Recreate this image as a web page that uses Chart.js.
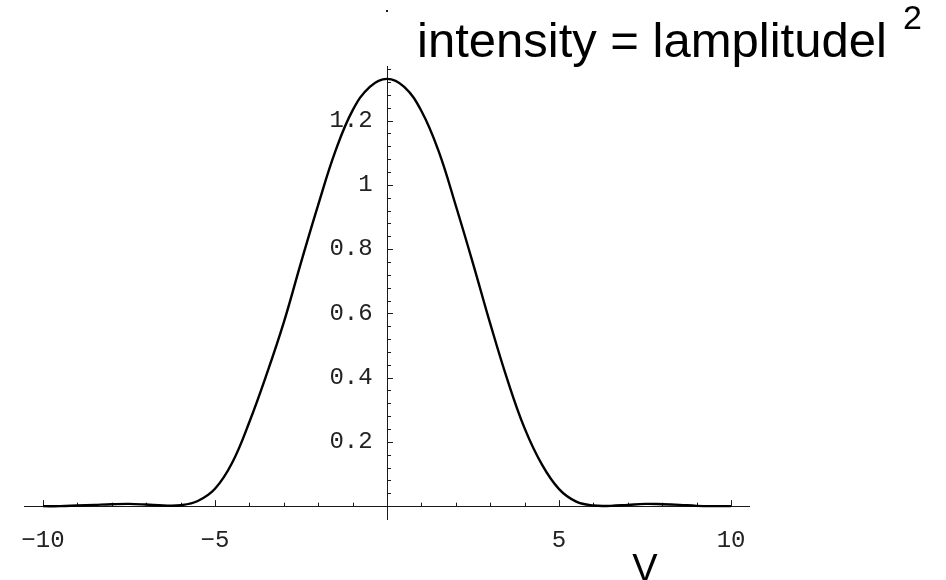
<!DOCTYPE html>
<html>
<head>
<meta charset="utf-8">
<script src="https://cdn.jsdelivr.net/npm/chart.js@4.4.1/dist/chart.umd.min.js"></script>
<style>
  html, body { margin: 0; padding: 0; background: #fff; }
  #wrap { width: 946px; height: 580px; }
</style>
</head>
<body>
<div id="wrap"><canvas id="plot" width="946" height="580"></canvas></div>
<script>
// v in steps of 0.5 and the intensity |amplitude|^2 at each v
const vValues = [
  -10, -9.5, -9, -8.5, -8, -7.5, -7, -6.5, -6, -5.5, -5, -4.5, -4, -3.5, -3, -2.5, -2, -1.5, -1, -0.5,
  0,
  0.5, 1, 1.5, 2, 2.5, 3, 3.5, 4, 4.5, 5, 5.5, 6, 6.5, 7, 7.5, 8, 8.5, 9, 9.5, 10
];
const intensity = [
  0, 0, 0.002, 0.004, 0.006, 0.007, 0.005, 0.002, 0.003, 0.016, 0.054, 0.135, 0.262, 0.41, 0.572, 0.758, 0.938, 1.105, 1.232, 1.305,
  1.33,
  1.305, 1.23, 1.105, 0.935, 0.755, 0.568, 0.393, 0.242, 0.13, 0.053, 0.014, 0.002, 0.001, 0.004, 0.007, 0.006, 0.004, 0.001, 0, 0
];

const xTickValues = [-10, -5, 5, 10];
const yTickValues = [0.2, 0.4, 0.6, 0.8, 1, 1.2];
const xMinorTicks = [-9, -8, -7, -6, -4, -3, -2, -1, 1, 2, 3, 4, 6, 7, 8, 9];
const yMinorTicks = [];
for (let k = 1; k <= 34; k++) {
  if (k % 5 !== 0) yMinorTicks.push(k * 0.04);
}

const AXIS_COLOR = '#1a1a1a';
const tickFont = { family: 'Liberation Mono', size: 24 };

// small inward tick marks, drawn before the curve so it covers them
const tickMarks = {
  id: 'tickMarks',
  beforeDatasetsDraw(chart) {
    const { ctx, scales: { x, y } } = chart;
    const x0 = x.getPixelForValue(0);
    const y0 = y.getPixelForValue(0);
    ctx.save();
    ctx.strokeStyle = AXIS_COLOR;
    ctx.lineWidth = 1;
    ctx.beginPath();
    xTickValues.forEach(v => {
      const px = Math.round(x.getPixelForValue(v)) + 0.5;
      ctx.moveTo(px, y0); ctx.lineTo(px, y0 - 6);
    });
    xMinorTicks.forEach(v => {
      const px = Math.round(x.getPixelForValue(v)) + 0.5;
      ctx.moveTo(px, y0); ctx.lineTo(px, y0 - 3.5);
    });
    yTickValues.forEach(v => {
      const py = Math.round(y.getPixelForValue(v)) + 0.5;
      ctx.moveTo(x0, py); ctx.lineTo(x0 + 6, py);
    });
    yMinorTicks.forEach(v => {
      const py = Math.round(y.getPixelForValue(v)) + 0.5;
      ctx.moveTo(x0, py); ctx.lineTo(x0 + 4, py);
    });
    ctx.stroke();
    // small dot above the top of the vertical axis
    ctx.fillStyle = AXIS_COLOR;
    ctx.fillRect(Math.round(x0) - 1, 10, 2, 2);
    ctx.restore();
  }
};

// plot label and axis letter
const plotText = {
  id: 'plotText',
  afterDraw(chart) {
    const { ctx } = chart;
    ctx.save();
    ctx.fillStyle = '#000';
    ctx.textBaseline = 'alphabetic';
    ctx.textAlign = 'left';
    ctx.font = '49px "Liberation Sans"';
    ctx.fillText('intensity = lamplitudel', 417, 57);
    ctx.font = '34px "Liberation Sans"';
    ctx.fillText('2', 903, 29);
    ctx.textAlign = 'center';
    ctx.font = '38px "Liberation Sans"';
    ctx.fillText('V', 645, 581);
    ctx.restore();
  }
};

new Chart(document.getElementById('plot'), {
  type: 'line',
  data: {
    datasets: [{
      data: vValues.map((v, i) => ({ x: v, y: intensity[i] })),
      borderColor: '#000',
      borderWidth: 2.4,
      pointRadius: 0,
      tension: 0.4,
      fill: false
    }]
  },
  options: {
    responsive: false,
    animation: false,
    devicePixelRatio: 1,
    layout: { padding: { left: 24, right: 197, top: 66, bottom: 61 } },
    plugins: {
      legend: { display: false },
      tooltip: { enabled: false }
    },
    scales: {
      x: {
        type: 'linear',
        min: -10.55,
        max: 10.52,
        position: { y: 0 },
        afterFit: s => { s.height = 0; },
        afterBuildTicks: s => { s.ticks = xTickValues.map(value => ({ value })); },
        grid: { display: false, drawTicks: false },
        border: { color: AXIS_COLOR, width: 1 },
        ticks: {
          font: tickFont,
          color: '#222',
          padding: 20,
          maxRotation: 0,
          autoSkip: false,
          callback: v => (v < 0 ? '\u2212' + Math.abs(v) : String(v))
        }
      },
      y: {
        type: 'linear',
        min: -0.04,
        max: 1.37,
        position: { x: 0 },
        afterFit: s => { s.width = 0; },
        afterBuildTicks: s => { s.ticks = yTickValues.map(value => ({ value })); },
        grid: { display: false, drawTicks: false },
        border: { color: AXIS_COLOR, width: 1 },
        ticks: {
          font: tickFont,
          color: '#222',
          autoSkip: false,
          // trailing space keeps the labels clear of the axis line
          callback: v => String(v) + ' '
        }
      }
    }
  },
  plugins: [tickMarks, plotText]
});
</script>
</body>
</html>
